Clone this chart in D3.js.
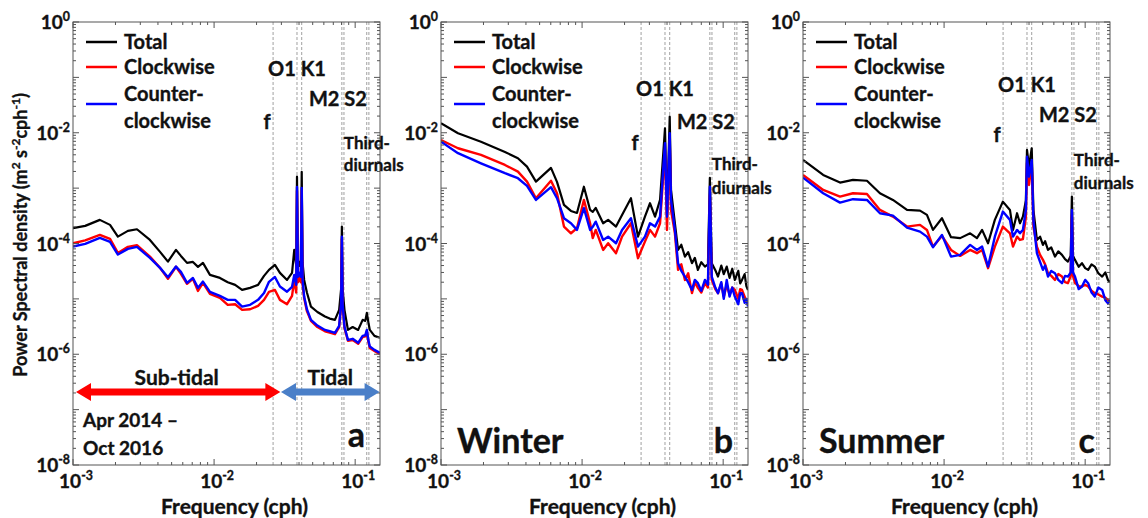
<!DOCTYPE html>
<html>
<head>
<meta charset="utf-8">
<script src="https://cdn.jsdelivr.net/npm/d3@7"></script>
<style>
  body { margin: 0; background: #fff; }
  svg { display: block; font-family: Lato, "Open Sans", sans-serif; font-weight: bold; }
  svg text { fill: #111; stroke: #111; stroke-width: 0.35px; }
</style>
</head>
<body>
<svg id="chart" width="1148" height="518"></svg>
<script>
// ---- data (frequency in cph, PSD in m^2 s^-2 cph^-1) ----
const freqA = [1.0e-3, 1.22e-3, 1.55e-3, 1.83e-3, 2.08e-3, 2.45e-3, 2.84e-3, 3.51e-3, 4.14e-3, 4.71e-3,
  5.37e-3, 5.82e-3, 6.43e-3, 7.08e-3, 7.69e-3, 8.34e-3, 9.35e-3, 1.10e-2, 1.25e-2, 1.41e-2,
  1.58e-2, 1.80e-2, 2.05e-2, 2.26e-2, 2.45e-2, 2.70e-2, 2.93e-2, 3.29e-2, 3.57e-2, 3.70e-2,
  3.82e-2, 3.87e-2, 3.93e-2, 4.02e-2, 4.12e-2, 4.18e-2, 4.24e-2, 4.35e-2, 4.55e-2, 4.86e-2,
  5.4e-2, 6.11e-2, 6.6e-2, 7.19e-2, 7.7e-2, 7.95e-2, 8.05e-2, 8.15e-2, 8.4e-2, 8.89e-2,
  9.6e-2, 1.05e-1, 1.13e-1, 1.18e-1, 1.21e-1, 1.24e-1, 1.27e-1, 1.37e-1, 1.5e-1];
const totalA = [1.9e-4, 2.08e-4, 2.67e-4, 2.17e-4, 1.33e-4, 1.69e-4, 1.81e-4, 1.16e-4, 7.05e-5, 4.71e-5,
  7.66e-5, 5.97e-5, 4.47e-5, 4.65e-5, 3.78e-5, 4.47e-5, 2.71e-5, 2.39e-5, 2.0e-5, 1.79e-5,
  1.45e-5, 1.58e-5, 1.79e-5, 2.6e-5, 3.34e-5, 4.11e-5, 2.95e-5, 2.2e-5, 2.95e-5, 7.66e-5,
  4.0e-5, 1.61e-3, 5.0e-5, 3.94e-5, 5.0e-5, 1.96e-3, 4.5e-5, 2.2e-5, 1.3e-5, 7.26e-6,
  5.8e-6, 4.8e-6, 4.4e-6, 4.18e-6, 6.33e-6, 1.5e-5, 2.02e-4, 1.5e-5, 6.33e-6, 2.75e-6,
  3.1e-6, 2.75e-6, 4.18e-6, 4.0e-6, 5.58e-6, 3.8e-6, 2.75e-6, 2.15e-6, 1.98e-6];
const cwA = [1.01e-4, 1.14e-4, 1.43e-4, 1.21e-4, 6.76e-5, 8.69e-5, 9.3e-5, 5.8e-5, 3.63e-5, 2.3e-5,
  3.8e-5, 2.83e-5, 1.87e-5, 2.3e-5, 1.39e-5, 1.95e-5, 1.23e-5, 1.04e-5, 7.8e-6, 8.0e-6,
  6.33e-6, 6.5e-6, 7.48e-6, 9.6e-6, 1.34e-5, 1.45e-5, 9.6e-6, 8.0e-6, 1.13e-5, 2.2e-5,
  1.3e-5, 9.0e-4, 2.0e-5, 2.7e-5, 2.0e-5, 9.0e-4, 1.8e-5, 1.04e-5, 6.0e-6, 4.0e-6,
  3.1e-6, 2.6e-6, 2.45e-6, 2.3e-6, 3.1e-6, 7.5e-6, 1.2e-4, 7.5e-6, 3.0e-6, 1.75e-6,
  1.8e-6, 1.55e-6, 2.05e-6, 2.1e-6, 2.6e-6, 1.7e-6, 1.3e-6, 1.15e-6, 1.0e-6];
const ccwA = [8.79e-5, 9.84e-5, 1.26e-4, 1.07e-4, 6.31e-5, 8.0e-5, 8.69e-5, 5.5e-5, 3.63e-5, 2.45e-5,
  3.83e-5, 3.07e-5, 1.95e-5, 2.39e-5, 1.58e-5, 2.05e-5, 1.34e-5, 1.13e-5, 9.6e-6, 9.6e-6,
  7.26e-6, 7.8e-6, 9.6e-6, 1.28e-5, 2.03e-5, 2.49e-5, 1.67e-5, 1.35e-5, 1.65e-5, 2.7e-5,
  1.8e-5, 1.05e-3, 2.5e-5, 2.95e-5, 2.5e-5, 1.01e-3, 2.2e-5, 1.1e-5, 6.5e-6, 4.18e-6,
  3.3e-6, 2.75e-6, 2.6e-6, 2.43e-6, 3.26e-6, 8.0e-6, 1.32e-4, 8.0e-6, 3.16e-6, 1.82e-6,
  1.9e-6, 1.61e-6, 2.15e-6, 2.2e-6, 2.75e-6, 1.8e-6, 1.38e-6, 1.2e-6, 1.06e-6];

const freqB = [1.0e-3, 1.32e-3, 1.92e-3, 2.84e-3, 3.51e-3, 4.07e-3, 4.71e-3, 6.02e-3, 6.64e-3, 7.44e-3,
  8.34e-3, 9.2e-3, 1.03e-2, 1.14e-2, 1.19e-2, 1.25e-2, 1.41e-2, 1.53e-2, 1.74e-2, 1.92e-2,
  2.22e-2, 2.49e-2, 2.79e-2, 3.03e-2, 3.29e-2, 3.57e-2, 3.87e-2, 4.0e-2, 4.18e-2, 4.27e-2,
  4.55e-2, 4.79e-2, 5.05e-2, 5.36e-2, 5.65e-2, 6.01e-2, 6.3e-2, 6.62e-2, 7.0e-2, 7.43e-2,
  7.8e-2, 8.05e-2, 8.3e-2, 8.8e-2, 9.19e-2, 9.7e-2, 1.01e-1, 1.06e-1, 1.11e-1, 1.16e-1,
  1.21e-1, 1.28e-1, 1.32e-1, 1.36e-1, 1.42e-1, 1.46e-1, 1.5e-1];
const totalB = [1.48e-2, 9.8e-3, 6.9e-3, 4.5e-3, 3.47e-3, 2.44e-3, 1.31e-3, 2.32e-3, 1.3e-3, 4.97e-4,
  3.87e-4, 3.56e-4, 1.06e-3, 4.04e-4, 3.72e-4, 4.39e-4, 2.32e-4, 2.67e-4, 2.02e-4, 3.28e-4,
  6.57e-4, 1.33e-4, 3.06e-4, 5.33e-4, 3.06e-4, 6.12e-4, 1.2e-2, 3.56e-4, 1.95e-2, 9.3e-4,
  2.32e-4, 7.66e-5, 9.5e-5, 5.8e-5, 7.0e-5, 4.41e-5, 5.5e-5, 3.34e-5, 4.6e-5, 3.83e-5,
  4.2e-5, 1.53e-3, 4.41e-5, 3.3e-5, 2.53e-5, 4.0e-5, 2.8e-5, 3.83e-5, 2.4e-5, 3.5e-5,
  2.2e-5, 3.2e-5, 1.9e-5, 2.2e-5, 2.8e-5, 1.7e-5, 1.45e-5];
const cwB = [7.41e-3, 5.25e-3, 3.97e-3, 2.62e-3, 1.99e-3, 1.31e-3, 6.57e-4, 1.36e-3, 8.09e-4, 2.02e-4,
  1.53e-4, 1.89e-4, 6.12e-4, 2.32e-4, 1.25e-4, 1.76e-4, 7.66e-5, 1.01e-4, 6.68e-5, 1.33e-4,
  2.32e-4, 5.43e-5, 1.08e-4, 1.76e-4, 1.33e-4, 2.32e-4, 4.9e-3, 1.76e-4, 7.4e-3, 4.0e-4,
  1.53e-4, 3.34e-5, 4.2e-5, 2.2e-5, 2.9e-5, 1.27e-5, 2.0e-5, 1.58e-5, 1.3e-5, 1.92e-5,
  1.6e-5, 7.5e-4, 2.2e-5, 1.5e-5, 1.27e-5, 1.9e-5, 1.1e-5, 1.79e-5, 1.2e-5, 1.6e-5,
  1.45e-5, 1.0e-5, 1.5e-5, 1.45e-5, 1.1e-5, 9.0e-6, 8.6e-6];
const ccwB = [6.9e-3, 4.27e-3, 2.81e-3, 1.86e-3, 1.51e-3, 1.10e-3, 6.12e-4, 1.04e-3, 6.57e-4, 2.86e-4,
  2.32e-4, 1.76e-4, 4.34e-4, 1.76e-4, 2.0e-4, 2.48e-4, 1.16e-4, 1.33e-4, 1.01e-4, 1.76e-4,
  2.86e-4, 8.79e-5, 1.33e-4, 2.32e-4, 2.02e-4, 3.06e-4, 6.46e-3, 3.06e-4, 9.8e-3, 6.1e-4,
  1.76e-4, 4.41e-5, 3.2e-5, 2.53e-5, 2.0e-5, 1.45e-5, 2.2e-5, 1.92e-5, 1.4e-5, 2.2e-5,
  1.8e-5, 1.06e-3, 2.53e-5, 1.6e-5, 1.27e-5, 2.0e-5, 1.0e-5, 2.2e-5, 1.1e-5, 1.6e-5,
  1.1e-5, 8.0e-6, 1.27e-5, 1.27e-5, 8.5e-6, 1.0e-5, 7.26e-6];

const freqC = [1.0e-3, 1.39e-3, 1.83e-3, 2.26e-3, 2.84e-3, 3.51e-3, 4.34e-3, 5.46e-3, 6.75e-3, 7.56e-3,
  8.34e-3, 9.66e-3, 1.12e-2, 1.30e-2, 1.53e-2, 1.71e-2, 1.86e-2, 2.05e-2, 2.29e-2, 2.61e-2,
  2.93e-2, 3.08e-2, 3.29e-2, 3.45e-2, 3.62e-2, 3.80e-2, 3.87e-2, 4.0e-2, 4.18e-2, 4.30e-2,
  4.55e-2, 4.79e-2, 5.02e-2, 5.2e-2, 5.45e-2, 5.75e-2, 6.11e-2, 6.45e-2, 6.85e-2, 7.2e-2,
  7.55e-2, 7.9e-2, 8.05e-2, 8.2e-2, 8.47e-2, 9.0e-2, 9.49e-2, 1.0e-1, 1.05e-1, 1.11e-1,
  1.17e-1, 1.24e-1, 1.32e-1, 1.39e-1, 1.45e-1, 1.5e-1];
const totalC = [3.23e-3, 1.73e-3, 1.26e-3, 1.41e-3, 1.36e-3, 8.09e-4, 6.12e-4, 4.04e-4, 3.93e-4, 3.28e-4,
  1.76e-4, 2.86e-4, 1.30e-4, 1.25e-4, 1.53e-4, 1.25e-4, 1.76e-4, 1.01e-4, 2.67e-4, 5.70e-4,
  4.04e-4, 1.76e-4, 3.52e-4, 2.32e-4, 3.06e-4, 6.0e-4, 4.9e-3, 2.44e-3, 5.25e-3, 4.0e-4,
  1.16e-4, 1.33e-4, 9.44e-5, 1.1e-4, 7.66e-5, 8.5e-5, 5.8e-5, 7.2e-5, 6.22e-5, 5.2e-5,
  4.71e-5, 6.0e-5, 7.03e-4, 6.0e-5, 5.06e-5, 3.8e-5, 4.41e-5, 3.6e-5, 3.34e-5, 4.2e-5,
  3.83e-5, 2.9e-5, 2.53e-5, 3.0e-5, 2.2e-5, 2.0e-5];
const cwC = [1.73e-3, 9.27e-4, 7.03e-4, 8.09e-4, 7.85e-4, 4.04e-4, 3.06e-4, 2.02e-4, 2.17e-4, 1.76e-4,
  8.79e-5, 1.37e-4, 7.66e-5, 5.97e-5, 7.66e-5, 6.68e-5, 7.66e-5, 3.58e-5, 8.79e-5, 2.02e-4,
  1.53e-4, 8.79e-5, 1.33e-4, 1.16e-4, 1.2e-4, 3.0e-4, 2.85e-3, 1.14e-3, 2.85e-3, 2.0e-4,
  8.79e-5, 6.22e-5, 5.06e-5, 4.2e-5, 2.91e-5, 2.6e-5, 2.2e-5, 2.8e-5, 2.53e-5, 2.0e-5,
  1.92e-5, 2.6e-5, 3.28e-4, 2.6e-5, 1.95e-5, 1.7e-5, 1.67e-5, 1.8e-5, 1.67e-5, 1.4e-5,
  1.27e-5, 1.2e-5, 1.10e-5, 1.05e-5, 9.6e-6, 9.0e-6];
const ccwC = [1.55e-3, 8.09e-4, 5.47e-4, 6.31e-4, 6.12e-4, 3.52e-4, 3.19e-4, 1.94e-4, 1.64e-4, 1.33e-4,
  8.57e-5, 1.43e-4, 5.8e-5, 6.22e-5, 9.44e-5, 7.66e-5, 8.79e-5, 3.83e-5, 1.33e-4, 3.77e-4,
  2.67e-4, 1.33e-4, 1.76e-4, 1.53e-4, 1.76e-4, 4.0e-4, 3.7e-3, 1.61e-3, 3.23e-3, 2.5e-4,
  6.68e-5, 4.65e-5, 3.34e-5, 4.0e-5, 2.53e-5, 3.2e-5, 2.91e-5, 2.2e-5, 1.92e-5, 2.6e-5,
  2.53e-5, 3.0e-5, 4.04e-4, 3.0e-5, 2.53e-5, 1.5e-5, 1.67e-5, 2.2e-5, 1.92e-5, 1.3e-5,
  1.10e-5, 1.6e-5, 1.45e-5, 9.5e-6, 8.36e-6, 9.5e-6];

// f, O1, K1, M2, S2 and the third-diurnal constituents (cph)
const tideFreqs = [0.0262, 0.0387, 0.0418, 0.0805, 0.0833, 0.1208, 0.1251];
const seriesNames = ["Total", "Clockwise", "Counter-", "clockwise"];
const seriesColors = ["#000000", "#ff0000", "#0000ff"];
const xTickValues = [1e-3, 1e-2, 1e-1];
const yTickValues = [1, 1e-2, 1e-4, 1e-6, 1e-8];
const subTidal = [1e-3, 0.0295];
const tidal = [0.0298, 0.149];

// ---- layout ----
const svg = d3.select( "#chart" );
const TOP = 22;
const HEIGHT = 443;
const WIDTH = 307;

const panels = [
  { left: 73, freq: freqA, series: [ totalA, cwA, ccwA ], letter: "a", season: null,
    labelY: [ 69, 99, 122, 143, 165 ] },
  { left: 441, freq: freqB, series: [ totalB, cwB, ccwB ], letter: "b", season: "Winter",
    labelY: [ 89, 122, 143, 164, 188 ] },
  { left: 803, freq: freqC, series: [ totalC, cwC, ccwC ], letter: "c", season: "Summer",
    labelY: [ 85, 115, 135, 160, 183 ] },
];

function powLabel( sel, base, exp, size ) {
  sel.append( "tspan" ).text( base );
  sel.append( "tspan" ).attr( "dy", -size * 0.42 ).attr( "font-size", size * 0.65 ).text( exp );
}

panels.forEach( ( p, i ) => {
  const x = d3.scaleLog().domain( [ 1e-3, 0.15 ] ).range( [ p.left, p.left + WIDTH ] );
  const y = d3.scaleLog().domain( [ 1e-8, 1 ] ).range( [ TOP + HEIGHT, TOP ] );
  const g = svg.append( "g" );

  const clipId = `clip${i}`;
  svg.append( "clipPath" ).attr( "id", clipId )
    .append( "rect" )
    .attr( "x", p.left ).attr( "y", TOP ).attr( "width", WIDTH ).attr( "height", HEIGHT );

  // dashed tidal lines
  g.selectAll( "line.tide" )
    .data( tideFreqs )
    .enter()
    .append( "line" )
    .attr( "x1", d => x( d ) ).attr( "x2", d => x( d ) )
    .attr( "y1", TOP ).attr( "y2", TOP + HEIGHT )
    .attr( "stroke", "#a0a0a0" )
    .attr( "stroke-width", 1 )
    .attr( "stroke-dasharray", "3,2" );

  // spectra
  const lineFunc = d3.line()
    .x( d => x( d[0] ) )
    .y( d => y( d[1] ) );

  p.series.forEach( ( vals, k ) => {
    g.append( "path" )
      .attr( "clip-path", `url(#${clipId})` )
      .attr( "d", lineFunc( p.freq.map( ( f, j ) => [ f, vals[j] ] ) ) )
      .attr( "fill", "none" )
      .attr( "stroke", seriesColors[k] )
      .attr( "stroke-width", k === 0 ? 2.2 : 2.4 )
      .attr( "stroke-linejoin", "round" );
  } );

  // box and ticks
  g.append( "rect" )
    .attr( "x", p.left ).attr( "y", TOP ).attr( "width", WIDTH ).attr( "height", HEIGHT )
    .attr( "fill", "none" ).attr( "stroke", "#555" ).attr( "stroke-width", 1 );

  const xMinor = [];
  const yMinor = [];
  for ( let e = -3; e <= -1; e++ ) {
    for ( let m = 1; m <= 9; m++ ) {
      const v = m * Math.pow( 10, e );
      if ( v <= 0.15 ) xMinor.push( v );
    }
  }
  for ( let e = -8; e <= 0; e++ ) {
    for ( let m = 1; m <= 9; m++ ) {
      const v = m * Math.pow( 10, e );
      if ( v <= 1 ) yMinor.push( v );
    }
  }
  const isMajor = v => Math.abs( Math.log10( v ) - Math.round( Math.log10( v ) ) ) < 1e-9;

  xMinor.forEach( v => {
    const len = isMajor( v ) ? 6 : 3;
    g.append( "line" ).attr( "x1", x( v ) ).attr( "x2", x( v ) )
      .attr( "y1", TOP + HEIGHT ).attr( "y2", TOP + HEIGHT - len ).attr( "stroke", "#555" );
    g.append( "line" ).attr( "x1", x( v ) ).attr( "x2", x( v ) )
      .attr( "y1", TOP ).attr( "y2", TOP + len ).attr( "stroke", "#555" );
  } );
  yMinor.forEach( v => {
    const len = isMajor( v ) ? 6 : 3;
    g.append( "line" ).attr( "y1", y( v ) ).attr( "y2", y( v ) )
      .attr( "x1", p.left ).attr( "x2", p.left + len ).attr( "stroke", "#555" );
    g.append( "line" ).attr( "y1", y( v ) ).attr( "y2", y( v ) )
      .attr( "x1", p.left + WIDTH ).attr( "x2", p.left + WIDTH - len ).attr( "stroke", "#555" );
  } );

  // tick labels
  yTickValues.forEach( v => {
    const t = g.append( "text" )
      .attr( "x", p.left - 3 ).attr( "y", y( v ) + 7 )
      .attr( "text-anchor", "end" ).attr( "font-size", 19 );
    powLabel( t, "10", String( Math.round( Math.log10( v ) ) ), 19 );
  } );
  xTickValues.forEach( v => {
    const t = g.append( "text" )
      .attr( "x", x( v ) + 3 ).attr( "y", TOP + HEIGHT + 23 )
      .attr( "text-anchor", "middle" ).attr( "font-size", 19 );
    powLabel( t, "10", String( Math.round( Math.log10( v ) ) ), 19 );
  } );

  g.append( "text" )
    .attr( "x", p.left + WIDTH / 2 + 8 ).attr( "y", 514 )
    .attr( "text-anchor", "middle" ).attr( "font-size", 21 )
    .text( "Frequency (cph)" );

  // legend
  const legRows = [ 42, 67, 94, 121 ];
  const legLines = [ 42, 67, 104 ];
  legLines.forEach( ( ly, k ) => {
    g.append( "line" )
      .attr( "x1", p.left + 13 ).attr( "x2", p.left + 44 )
      .attr( "y1", ly ).attr( "y2", ly )
      .attr( "stroke", seriesColors[k] ).attr( "stroke-width", 2.5 );
  } );
  seriesNames.forEach( ( name, k ) => {
    g.append( "text" )
      .attr( "x", p.left + 51 ).attr( "y", legRows[k] + 7 )
      .attr( "font-size", 20 )
      .text( name );
  } );

  // constituent labels
  const ly = p.labelY;
  const lab = ( tx, ty, str, anchor, size ) => g.append( "text" )
    .attr( "x", tx ).attr( "y", ty ).attr( "text-anchor", anchor )
    .attr( "font-size", size ).text( str );
  lab( x( tideFreqs[1] ), ly[0] + 7, "O1 K1", "middle", 20 );
  lab( x( tideFreqs[3] ) - 4, ly[1] + 7, "M2 S2", "middle", 20 );
  lab( x( tideFreqs[0] ) - 6, ly[2] + 7, "f", "middle", 20 );
  lab( x( tideFreqs[3] ) + 2, ly[3] + 6, "Third-", "start", 17 );
  lab( x( tideFreqs[3] ) + 2, ly[4] + 6, "diurnals", "start", 17 );

  // panel letter and season
  lab( p.left + WIDTH - 15, p.season ? 453 : 447, p.letter, "end", 34 );
  if ( p.season ) lab( p.left + 16, 453, p.season, "start", 34 );
} );

// ---- extra annotations for panel a ----
{
  const p = panels[0];
  const x = d3.scaleLog().domain( [ 1e-3, 0.15 ] ).range( [ p.left, p.left + WIDTH ] );
  const ay = 392;
  const arrow = ( x0, x1, color ) => {
    const head = 15;
    const hw = 9;
    const sw = 3.5;
    svg.append( "path" )
      .attr( "d", `M${x0},${ay} L${x0 + head},${ay - hw} L${x0 + head},${ay - sw} L${x1 - head},${ay - sw}
        L${x1 - head},${ay - hw} L${x1},${ay} L${x1 - head},${ay + hw} L${x1 - head},${ay + sw}
        L${x0 + head},${ay + sw} L${x0 + head},${ay + hw} Z` )
      .attr( "fill", color );
  };
  arrow( x( subTidal[0] ) + 3, x( subTidal[1] ), "#ff0000" );
  arrow( x( tidal[0] ), x( tidal[1] ), "#4a7fc8" );

  const txt = ( tx, ty, str, anchor, size ) => svg.append( "text" )
    .attr( "x", tx ).attr( "y", ty ).attr( "text-anchor", anchor )
    .attr( "font-size", size ).text( str );
  txt( ( x( subTidal[0] ) + x( subTidal[1] ) ) / 2, 385, "Sub-tidal", "middle", 21 );
  txt( ( x( tidal[0] ) + x( tidal[1] ) ) / 2, 385, "Tidal", "middle", 21 );
  txt( p.left + 10, 427, "Apr 2014 \u2013", "start", 19 );
  txt( p.left + 10, 455, "Oct 2016", "start", 19 );
}

// ---- y axis title ----
{
  const t = svg.append( "text" )
    .attr( "transform", "translate(27,235) rotate(-90)" )
    .attr( "text-anchor", "middle" ).attr( "font-size", 18 );
  t.append( "tspan" ).text( "Power Spectral density (m" );
  t.append( "tspan" ).attr( "dy", -7 ).attr( "font-size", 12 ).text( "2" );
  t.append( "tspan" ).attr( "dy", 7 ).text( " s" );
  t.append( "tspan" ).attr( "dy", -7 ).attr( "font-size", 12 ).text( "-2" );
  t.append( "tspan" ).attr( "dy", 7 ).text( "cph" );
  t.append( "tspan" ).attr( "dy", -7 ).attr( "font-size", 12 ).text( "-1" );
  t.append( "tspan" ).attr( "dy", 7 ).text( ")" );
}
</script>
</body>
</html>
